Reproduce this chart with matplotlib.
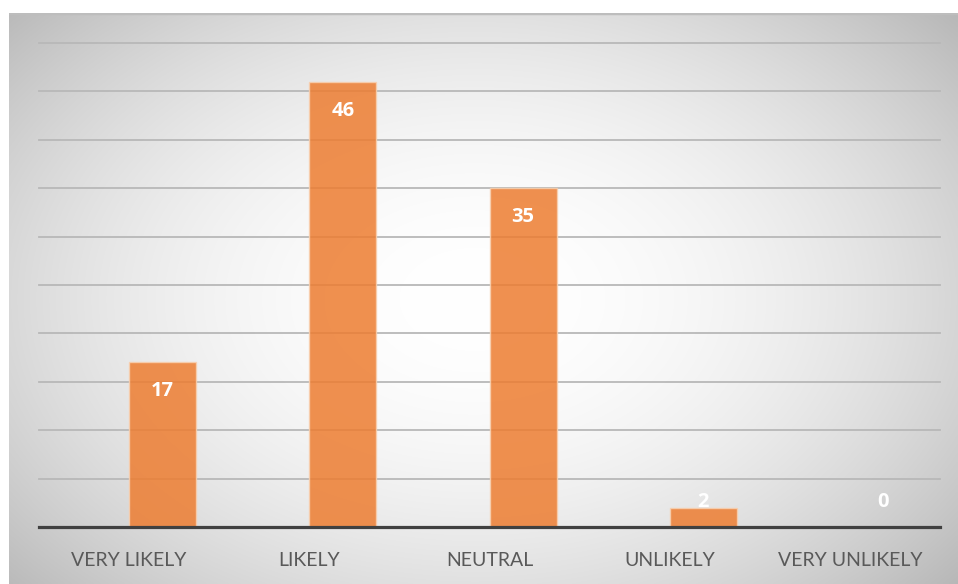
import numpy as np
import matplotlib
matplotlib.use("Agg")
import matplotlib.pyplot as plt

categories = ["VERY LIKELY", "LIKELY", "NEUTRAL", "UNLIKELY", "VERY UNLIKELY"]
counts = [17, 46, 35, 2, 0]
y_ticks = [5, 10, 15, 20, 25, 30, 35, 40, 45, 50]

W, H = 958, 584
fig = plt.figure(figsize=(W / 100, H / 100), dpi=100)
fig.patch.set_facecolor("white")

# radial grey-to-white backdrop behind the chart
bg = fig.add_axes([9 / W, 0, (W - 9) / W, (H - 13) / H])
ny, nx = 300, 500
yy, xx = np.mgrid[0:ny, 0:nx]
r = np.sqrt(((xx - nx * 0.49) / (nx * 0.58)) ** 2 + ((yy - ny * 0.50) / (ny * 0.66)) ** 2)
r = np.clip(r, 0, 1.3)
shade = 1.0 - 0.21 * r ** 2.0
bg.imshow(np.dstack([shade] * 3), aspect="auto", extent=[0, 1, 0, 1], interpolation="bilinear")
bg.axhline(1, color="#bdbdbd", lw=2.5)
bg.set_xlim(0, 1)
bg.set_ylim(0, 1)
bg.axis("off")

ax = fig.add_axes([39 / W, (H - 527) / H, 901 / W, (527 - 43) / H])
ax.patch.set_alpha(0)
x = np.arange(len(categories))
bw = 0.372
# series sits in the right half of each category slot, slightly see-through
ax.bar(x + bw / 2, counts, width=bw, color="#ED7D31", alpha=0.85,
       edgecolor="#F8D0B0", linewidth=1, zorder=3)

for yv in y_ticks:
    ax.axhline(yv, color="#b8b8b8", lw=1.3, zorder=1, clip_on=False)
ax.axhline(0, color="#404040", lw=2.3, zorder=4, clip_on=False)

for xi, v in zip(x, counts):
    ax.text(xi + bw / 2, max(v - 3.0, 2.6), str(v), ha="center", va="center", color="white",
            fontsize=14.5, fontweight="bold", family="Open Sans", zorder=5)

ax.set_xlim(-0.5, len(categories) - 0.5)
ax.set_ylim(0, 50)
ax.set_xticks(x)
ax.set_xticklabels(categories, fontsize=14, color="#595959", family="Lato")
ax.tick_params(axis="x", length=0, pad=18)
ax.set_yticks([])
for s in ax.spines.values():
    s.set_visible(False)

fig.savefig("out.png", dpi=100)
